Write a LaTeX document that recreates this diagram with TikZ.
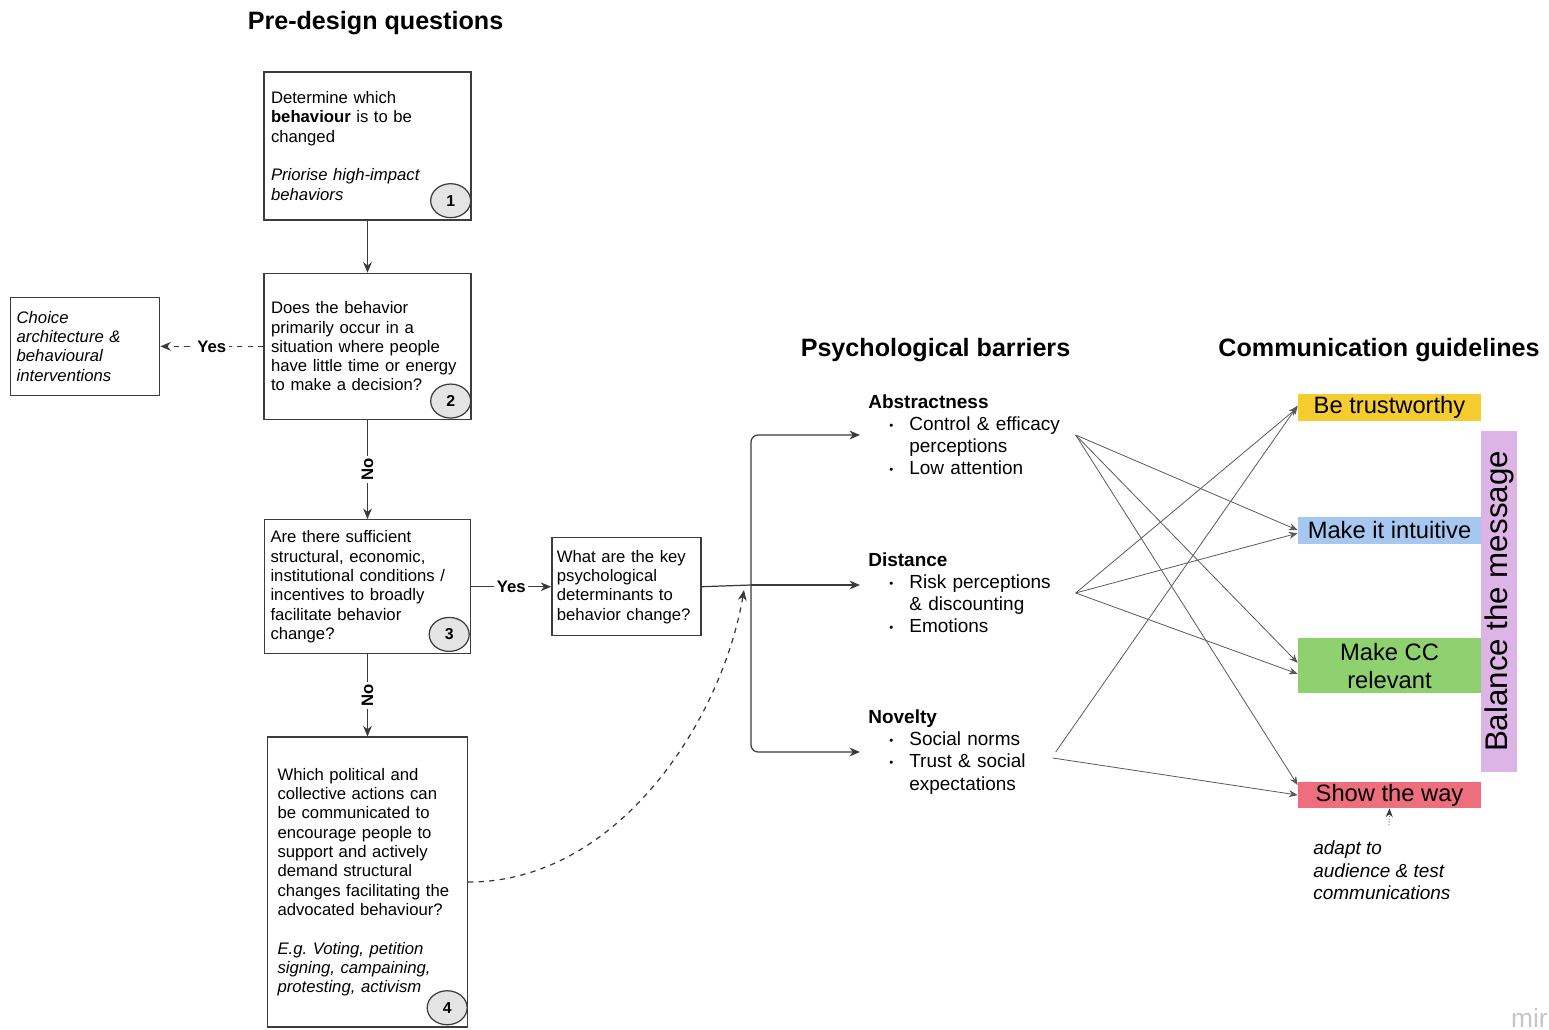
\documentclass[tikz,border=0pt]{standalone}
\usepackage{fontspec}
\setmainfont{Liberation Sans}
\usetikzlibrary{positioning, arrows.meta, shapes.geometric, calc}

\definecolor{linegray}{HTML}{3A3A3A}
\definecolor{boxgray}{HTML}{3C3C3C}
\definecolor{tagfill}{HTML}{E4E4E4}
\definecolor{trustyellow}{HTML}{F5CD2E}
\definecolor{intublue}{HTML}{A6C8F0}
\definecolor{ccgreen}{HTML}{8FD16F}
\definecolor{showpink}{HTML}{EE6E7E}
\definecolor{balpurple}{HTML}{DDB4E6}

% bullet lines of the barrier lists
\newcommand{\bitem}{\hspace*{0.1cm}\makebox[0.72cm][c]{\raisebox{0.15ex}{\scalebox{0.6}{\textbullet}}}}
\newcommand{\bcont}{\hspace*{0.82cm}}

\begin{document}
\frenchspacing
\begin{tikzpicture}[
    x=0.02cm, y=-0.02cm,
    qbox/.style={draw=boxgray, line width=0.8pt, fill=white, align=left, font=\fontsize{9.5}{11}\selectfont},
    numtag/.style={ellipse, draw=boxgray, line width=0.7pt, fill=tagfill, minimum width=0.8cm, minimum height=0.68cm, inner sep=0pt, font=\bfseries\fontsize{9}{11}\selectfont},
    arr/.style={-{Stealth[length=6pt,width=5pt]}, draw=linegray, line width=0.7pt},
    xline/.style={-{Stealth[length=5pt,width=4pt]}, draw=linegray!85, line width=0.45pt},
    lbl/.style={fill=white, inner sep=1.5pt, font=\bfseries\fontsize{9.5}{11}\selectfont},
    title/.style={font=\bfseries\fontsize{14.3}{17}\selectfont},
    barrier/.style={align=left, inner xsep=0.16cm, font=\fontsize{10.8}{12.6}\selectfont},
    guide/.style={minimum width=3.66cm, align=center, inner sep=0pt, font=\fontsize{13.5}{16}\selectfont}
]
    \useasboundingbox (0,0) rectangle (1549,1030);

    % titles
    \node[title] (predesign) at (375.5,23) {Pre-design questions};
    \node[title] (psychtitle) at (935.5,350) {Psychological barriers};
    \node[title] (commtitle) at (1379,350) {Communication guidelines};

    % pre-design questions
    \node[qbox, text width=3.86cm, inner xsep=0.14cm, minimum height=2.96cm] (q1) at (367.5,146) {Determine which\\\textbf{behaviour} is to be\\changed\\[11pt]\textit{Priorise high-impact}\\\textit{behaviors}};
    \node[qbox, text width=3.86cm, inner xsep=0.14cm, minimum height=2.92cm, below=1.04cm of q1] (q2) {Does the behavior\\primarily occur in a\\situation where people\\have little time or energy\\to make a decision?};
    \node[qbox, text width=3.88cm, inner xsep=0.12cm, minimum height=2.68cm, below=1.98cm of q2] (q3) {Are there sufficient\\structural, economic,\\institutional conditions /\\incentives to broadly\\facilitate behavior\\change?};
    \node[qbox, text width=3.6cm, inner xsep=0.2cm, minimum height=5.8cm, below=1.64cm of q3] (q4) {Which political and\\collective actions can\\be communicated to\\encourage people to\\support and actively\\demand structural\\changes facilitating the\\advocated behaviour?\\[11pt]\textit{E.g. Voting, petition}\\\textit{signing, campaining,}\\\textit{protesting, activism}};
    \node[qbox, text width=2.74cm, inner xsep=0.12cm, minimum height=1.96cm, left=2.06cm of q2] (choice) {\textit{Choice}\\\textit{architecture \&}\\\textit{behavioural}\\\textit{interventions}};
    \node[qbox, text width=2.78cm, inner xsep=0.1cm, minimum height=1.96cm, right=1.6cm of q3] (key) {What are the key\\psychological\\determinants to\\behavior change?};

    \node[numtag] (n1) at ([shift={(-0.42cm,0.4cm)}]q1.south east) {1};
    \node[numtag] (n2) at ([shift={(-0.42cm,0.38cm)}]q2.south east) {2};
    \node[numtag] (n3) at ([shift={(-0.44cm,0.4cm)}]q3.south east) {3};
    \node[numtag] (n4) at ([shift={(-0.42cm,0.4cm)}]q4.south east) {4};

    \draw[arr] (q1) -- (q2);
    \draw[arr, dash pattern=on 3pt off 3pt] (q2) -- node[lbl] {Yes} (choice);
    \draw[arr] (q2) -- node[lbl, rotate=90] {No} (q3);
    \draw[arr] (q3) -- node[lbl] {Yes} (key);
    \draw[arr] (q3) -- node[lbl, rotate=90] {No} (q4);

    % psychological barriers
    \node[barrier, text width=3.98cm, anchor=west] (abs) at (860,435) {\textbf{Abstractness}\\\bitem Control \& efficacy\\\bcont perceptions\\\bitem Low attention};
    \node[barrier, text width=3.98cm, anchor=west] (dist) at (860,593) {\textbf{Distance}\\\bitem Risk perceptions\\\bcont \& discounting\\\bitem Emotions};
    \node[barrier, text width=3.58cm, anchor=west] (nov) at (860,752) {\textbf{Novelty}\\\bitem Social norms\\\bitem Trust \& social\\\bcont expectations};

    \coordinate (junc) at (751,585);
    \draw[linegray, line width=0.7pt] (key.east) -- (junc);
    \draw[arr, rounded corners=4pt] (junc) |- (abs.west);
    \draw[arr] (junc) -- (junc -| dist.west);
    \draw[arr, rounded corners=4pt] (junc) |- (nov.west);

    \coordinate (merge) at (744,590);
    \draw[arr, dash pattern=on 3pt off 3pt] (q4.east) .. controls +(150,0) and +(-22,130) .. (merge);

    % communication guidelines
    \node[guide, fill=trustyellow, minimum height=0.54cm] (trust) at (1389.5,407.5) {Be trustworthy};
    \node[guide, fill=intublue, minimum height=0.54cm, below=1.9cm of trust] (intu) {Make it intuitive};
    \node[guide, fill=ccgreen, minimum height=1.1cm, below=1.88cm of intu] (cc) {Make CC\\relevant};
    \node[guide, fill=showpink, minimum height=0.52cm, below=1.76cm of cc] (show) {Show the way};
    \node[guide, fill=balpurple, rotate=90, minimum width=6.82cm, minimum height=0.72cm, font=\fontsize{17.8}{20}\selectfont] (bal) at (1499,601.5) {Balance the message};

    \draw[xline] (abs.east) -- (intu.west);
    \draw[xline] (abs.east) -- ([yshift=0.06cm]cc.west);
    \draw[xline] (abs.east) -- ([yshift=0.2cm]show.west);
    \draw[xline] (dist.east) -- (trust.west);
    \draw[xline] (dist.east) -- ([yshift=-0.06cm]intu.west);
    \draw[xline] (dist.east) -- ([yshift=-0.16cm]cc.west);
    \draw[xline] (nov.east) -- ([yshift=0.04cm]trust.west);
    \draw[xline] ([shift={(-0.06cm,-0.12cm)}]nov.east) -- (show.west);

    \node[anchor=west, align=left, inner xsep=0.12cm, font=\itshape\fontsize{10.8}{12.75}\selectfont] (adapt) at (1307,870.5) {adapt to\\audience \& test\\communications};
    \coordinate (adapttip) at (1389,825);
    \draw[-{Stealth[length=5pt,width=4pt]}, draw=linegray, densely dotted, line width=0.5pt] (adapttip) -- (show.south);

    \node[anchor=east, inner xsep=0.02cm, text=gray!45, font=\fontsize{15}{17}\selectfont] (logo) at (1549,1018) {mir};
\end{tikzpicture}
\end{document}
